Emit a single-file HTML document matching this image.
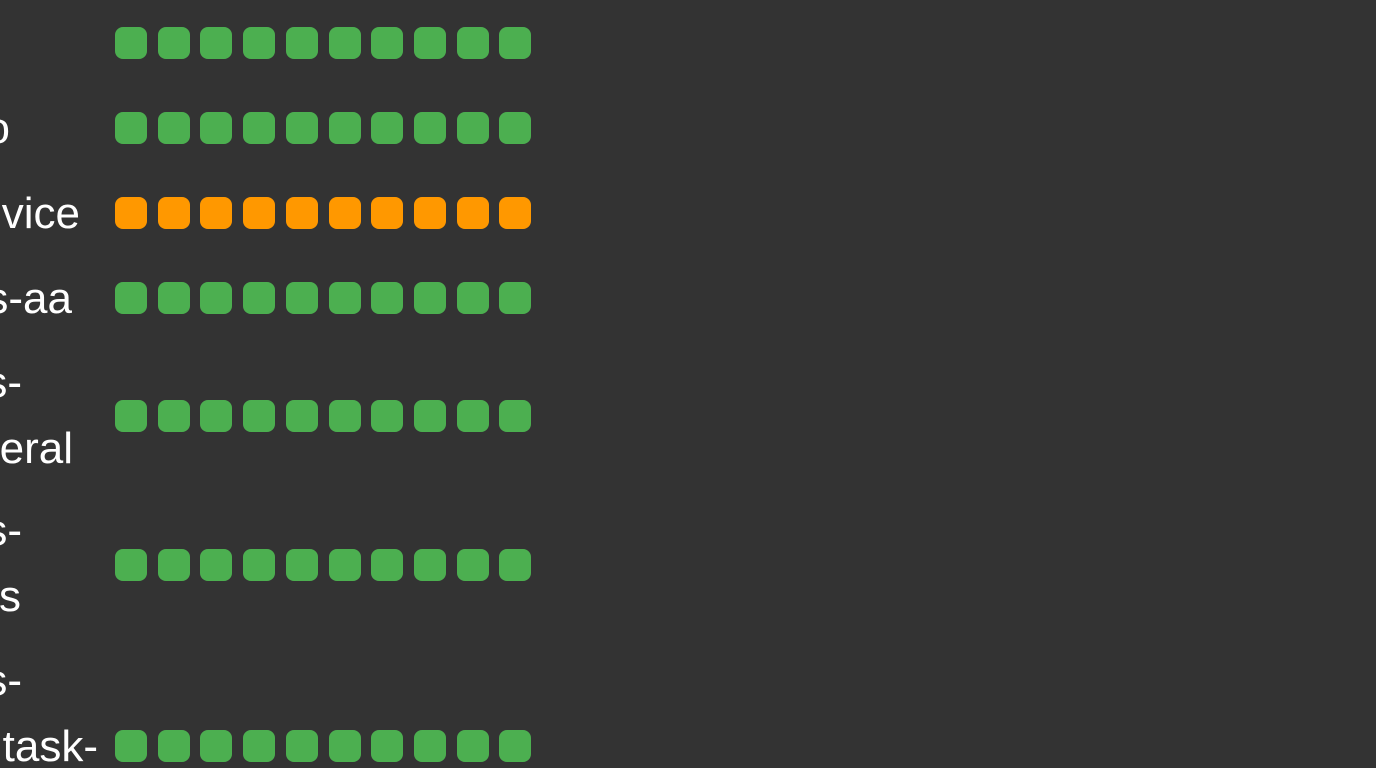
<!DOCTYPE html>
<html><head><meta charset="utf-8"><style>
html,body{margin:0;padding:0;background:#333333;width:1376px;height:768px;overflow:hidden;font-family:"Liberation Sans",sans-serif}
#root{position:relative;width:1376px;height:768px;overflow:hidden}
.lbl{position:absolute;color:#fff;font-size:44px;white-space:nowrap;line-height:1;text-align:right}
.cell{position:absolute;width:32px;height:32px;border-radius:8px}
</style></head><body>
<div id="root"></div>
<script>
const rowNames = ["", "o", "vice", "s-aa", "s-\neral", "s-\ns", "s-\ntask-"];
const rowCenters = [43, 128, 213, 298, 416, 565, 746];
const rowStatus = [
  ["ok","ok","ok","ok","ok","ok","ok","ok","ok","ok"],
  ["ok","ok","ok","ok","ok","ok","ok","ok","ok","ok"],
  ["warn","warn","warn","warn","warn","warn","warn","warn","warn","warn"],
  ["ok","ok","ok","ok","ok","ok","ok","ok","ok","ok"],
  ["ok","ok","ok","ok","ok","ok","ok","ok","ok","ok"],
  ["ok","ok","ok","ok","ok","ok","ok","ok","ok","ok"],
  ["ok","ok","ok","ok","ok","ok","ok","ok","ok","ok"]
];
const colors = {ok:"#4caf50", warn:"#ff9800"};
const labelBaselines = [[0],[144],[229],[314],[398,464],[546,612],[696,762]];
const labelRights = [[0],[10],[80],[72],[22,73],[22,21],[22,98]];
const root = document.getElementById('root');
function xCol(i){ return 115 + i * 42.7; }
rowNames.forEach((name, r) => {
  const lines = name.split("\n");
  const cy = rowCenters[r];
  lines.forEach((ln, k) => {
    if (!ln) return;
    const s = document.createElement('div');
    s.className = 'lbl';
    
    
    s.textContent = ln;
    s.style.right = (1376 - labelRights[r][k]) + 'px';
    s.style.top = (labelBaselines[r][k] - 37) + 'px';
    root.appendChild(s);
  });
  rowStatus[r].forEach((st, c) => {
    const d = document.createElement('div');
    d.className = 'cell';
    
    
    d.style.left = xCol(c) + 'px';
    d.style.top = (cy - 16) + 'px';
    d.style.background = colors[st];
    root.appendChild(d);
  });
});
</script>
</body></html>
